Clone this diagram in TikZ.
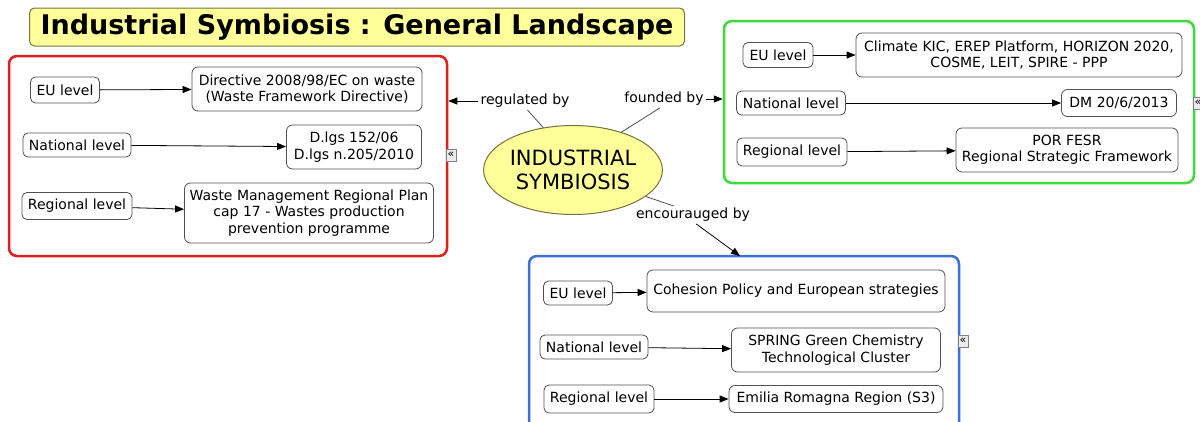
\documentclass[tikz,border=0pt]{standalone}
\usepackage{fontspec}
\setmainfont{DejaVu Sans}
\usetikzlibrary{arrows.meta,shapes.geometric}
\definecolor{jaune}{HTML}{FFFF99}
\definecolor{rouge}{HTML}{E01E1E}
\definecolor{vert}{HTML}{3CDA3C}
\definecolor{bleu}{HTML}{3F6FD8}
\definecolor{bord}{HTML}{505050}
\tikzset{
  niveau/.style={draw=bord, fill=white, rounded corners=5pt, line width=0.8pt, inner sep=2pt,
    font=\fontsize{14}{16.5}\selectfont},
  texte/.style={draw=bord, fill=white, rounded corners=6pt, line width=0.8pt, inner sep=2pt,
    align=center, font=\fontsize{14}{16.5}\selectfont},
  cadre/.style={rounded corners=8pt, line width=2.5pt},
  lien/.style={inner sep=2pt, font=\fontsize{14}{16.5}\selectfont},
  fleche/.style={-{Triangle[length=9pt,width=7pt]}, line width=0.8pt},
  icone/.style={draw=gray, fill=gray!15, inner sep=0.5pt, minimum width=10pt, minimum height=12pt,
    font=\fontsize{11}{11}\selectfont}
}
\begin{document}
\begin{tikzpicture}[x=1pt, y=-1pt]
\useasboundingbox[fill=white] (0,0) rectangle (1200,421);
% dessiner les cadres
\node[cadre, draw=rouge, minimum width=438pt, minimum height=200pt] (cadrerouge) at (228,156) {};
\node[cadre, draw=vert, minimum width=470pt, minimum height=162pt] (cadrevert) at (959,102) {};
\node[cadre, draw=bleu, minimum width=430pt, minimum height=184pt] (cadrebleu) at (744,348) {};

% titre et concept central
\node[draw=bord!80!yellow, fill=jaune, rounded corners=5pt, line width=1pt, minimum width=655pt, minimum height=38pt,
  font=\bfseries\fontsize{27}{30}\selectfont] (titre) at (357,27) {Industrial Symbiosis : General Landscape};
\node[ellipse, draw=bord!80!yellow, fill=jaune, line width=1pt, minimum width=164pt, minimum height=89pt,
  inner sep=0pt, align=center, font=\fontsize{21}{24}\selectfont] (symb) at (573,170) {INDUSTRIAL\\SYMBIOSIS};

% niveaux : regulated by
\node[niveau, minimum width=69pt, minimum height=26pt] (eu1) at (65,90) {EU level};
\node[niveau, minimum width=108pt, minimum height=24pt] (nat1) at (77,145) {National level};
\node[niveau, minimum width=110pt, minimum height=27pt] (reg1) at (77,206) {Regional level};
\node[texte, minimum width=230pt, minimum height=44pt] (dir1) at (307,89) {Directive 2008/98/EC on waste\\(Waste Framework Directive)};
\node[texte, minimum width=135pt, minimum height=44pt] (dlgs1) at (354,147) {D.lgs 152/06\\D.lgs n.205/2010};
\node[texte, minimum width=249pt, minimum height=60pt] (wmp1) at (309,213) {Waste Management Regional Plan\\cap 17 - Wastes production\\prevention programme};

% niveaux : founded by
\node[niveau, minimum width=70pt, minimum height=25pt] (eu2) at (778,55) {EU level};
\node[niveau, minimum width=109pt, minimum height=24pt] (nat2) at (791,103) {National level};
\node[niveau, minimum width=110pt, minimum height=28pt] (reg2) at (792,152) {Regional level};
\node[texte, minimum width=326pt, minimum height=44pt] (clim2) at (1019,55) {Climate KIC, EREP Platform, HORIZON 2020,\\COSME, LEIT, SPIRE - PPP};
\node[texte, minimum width=115pt, minimum height=27pt] (dm2) at (1119,103) {DM 20/6/2013};
\node[texte, minimum width=222pt, minimum height=44pt] (por2) at (1067,150) {POR FESR\\Regional Strategic Framework};

% niveaux : encourauged by
\node[niveau, minimum width=69pt, minimum height=24pt] (eu3) at (578,293) {EU level};
\node[niveau, minimum width=108pt, minimum height=24pt] (nat3) at (594,347) {National level};
\node[niveau, minimum width=110pt, minimum height=28pt] (reg3) at (599,399) {Regional level};
\node[texte, minimum width=298pt, minimum height=42pt] (coh3) at (796,291) {Cohesion Policy and European strategies};
\node[texte, minimum width=209pt, minimum height=44pt] (spr3) at (836,350) {SPRING Green Chemistry\\Technological Cluster};
\node[texte, minimum width=214pt, minimum height=27pt] (emi3) at (836,399) {Emilia Romagna Region (S3)};

% petites icones
\node[icone] (ic1) at (451,155) {«};
\node[icone] (ic2) at (1198,103) {«};
\node[icone] (ic3) at (963,341) {«};

% liens du concept central
\node[lien] (regby) at (525,101) {regulated by};
\node[lien] (fndby) at (664,99) {founded by};
\node[lien] (encby) at (693,215) {encourauged by};
\coordinate (entreebleu) at (740,256);
\draw[line width=0.8pt, bord] (symb.125) -- (regby.-75);
\draw[line width=0.8pt, bord] (symb.38) -- (fndby.-115);
\draw[line width=0.8pt, bord] (symb.-20) -- (encby.155);
\draw[fleche] (regby.west) -- (cadrerouge.east |- regby.west);
\draw[fleche] (fndby.east) -- (cadrevert.west |- fndby.east);
\draw[fleche] (encby.-70) -- (entreebleu);

% dessiner les flèches des niveaux
\foreach \a/\b in {eu1/dir1, nat1/dlgs1, reg1/wmp1, eu2/clim2, nat2/dm2, reg2/por2, eu3/coh3, nat3/spr3, reg3/emi3}
  \draw[fleche] (\a) -- (\b);
\end{tikzpicture}
\end{document}
